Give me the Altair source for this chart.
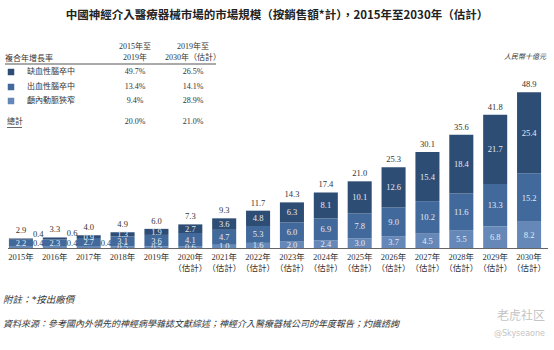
import altair as alt
import pandas as pd

years = ["2015年", "2016年", "2017年", "2018年", "2019年", "2020年", "2021年", "2022年",
         "2023年", "2024年", "2025年", "2026年", "2027年", "2028年", "2029年", "2030年"]
estimated = [False] * 5 + [True] * 11
series = ["缺血性腦卒中", "出血性腦卒中", "顱內動脈狹窄"]
ischemic = [0.4, 0.6, 0.9, 1.3, 1.9, 2.7, 3.6, 4.8, 6.3, 8.1, 10.1, 12.6, 15.4, 18.4, 21.7, 25.4]
hemorrhagic = [2.2, 2.3, 2.7, 3.1, 3.6, 4.1, 4.7, 5.3, 6.0, 6.9, 7.8, 9.0, 10.2, 11.6, 13.3, 15.2]
stenosis = [0.4, 0.4, 0.4, 0.5, 0.5, 0.6, 1.0, 1.6, 2.0, 2.4, 3.0, 3.7, 4.5, 5.5, 6.8, 8.2]
totals = [2.9, 3.3, 4.0, 4.9, 6.0, 7.3, 9.3, 11.7, 14.3, 17.4, 21.0, 25.3, 30.1, 35.6, 41.8, 48.9]
colors = ["#2e4d74", "#42699b", "#6588b8"]

cagr_1519 = ["49.7%", "13.4%", "9.4%"]
cagr_1930 = ["26.5%", "14.1%", "28.9%"]
cagr_total = ["20.0%", "21.0%"]

title = "中國神經介入醫療器械市場的市場規模（按銷售額*計），2015年至2030年（估計）"
unit = "人民幣十億元"
note = "附註：*按出廠價"
source = "資料來源：參考國內外領先的神經病學雜誌文獻綜述；神經介入醫療器械公司的年度報告；灼識諮詢"

SERIF = "Liberation Serif, Noto Sans CJK TC"
SANS = "Noto Sans CJK TC"

# ---- build tables ----
rows = []
for i, y in enumerate(years):
    vals = {"顱內動脈狹窄": stenosis[i], "出血性腦卒中": hemorrhagic[i], "缺血性腦卒中": ischemic[i]}
    base = 0.0
    for s in ["顱內動脈狹窄", "出血性腦卒中", "缺血性腦卒中"]:
        v = vals[s]
        rows.append({"year": y, "idx": i, "series": s, "value": v, "y0": base, "y1": base + v,
                     "mid": base + v / 2, "top": base + v})
        base += v
seg = pd.DataFrame(rows)
seg["label"] = seg["value"].map(lambda v: f"{v:.1f}")
seg["outside"] = (seg["idx"] < 3) & (seg["value"] < 0.8)
seg["ypos"] = seg.apply(lambda r: r["top"] if r["series"] == "缺血性腦卒中" else 0.0, axis=1)

tot = pd.DataFrame({"year": years, "total": totals,
                    "height": [a + b + c for a, b, c in zip(ischemic, hemorrhagic, stenosis)]})
tot["label"] = tot["total"].map(lambda v: f"{v:.1f}")

xl = pd.DataFrame({"year": years,
                   "label": [y + ("\n（估計）" if e else "") for y, e in zip(years, estimated)]})

xscale = alt.Scale(domain=years, range=[4, 546], paddingInner=0.29, paddingOuter=0.145)
yscale = alt.Scale(domain=[0, 48.9], range=[248, 92], nice=False, zero=False)
X = alt.X("year:N", sort=years, scale=xscale, axis=None)

bars = alt.Chart(seg).mark_bar().encode(
    x=X,
    y=alt.Y("y1:Q", scale=yscale, axis=None),
    y2="y0:Q",
    color=alt.Color("series:N", scale=alt.Scale(domain=series, range=colors), legend=None),
)

inside = alt.Chart(seg).transform_filter("!datum.outside").mark_text(
    font=SERIF, fontSize=8.5, color="#e4eaf3", baseline="middle"
).encode(x=X, y=alt.Y("mid:Q", scale=yscale, axis=None), text="label:N")

outside_top = alt.Chart(seg).transform_filter(
    "datum.outside && datum.series == '缺血性腦卒中'").mark_text(
    font=SERIF, fontSize=8.5, color="#333333", align="left", baseline="middle", dx=12, dy=-4
).encode(x=X, y=alt.Y("ypos:Q", scale=yscale, axis=None), text="label:N")

outside_bot = alt.Chart(seg).transform_filter(
    "datum.outside && datum.series == '顱內動脈狹窄'").mark_text(
    font=SERIF, fontSize=8.5, color="#333333", align="left", baseline="middle", dx=12, dy=-5
).encode(x=X, y=alt.Y("ypos:Q", scale=yscale, axis=None), text="label:N")

total_lbl = alt.Chart(tot).mark_text(
    font=SERIF, fontSize=8.5, color="#333333", baseline="bottom", dy=-3
).encode(x=X, y=alt.Y("height:Q", scale=yscale, axis=None), text="label:N")

xlabels = alt.Chart(xl).mark_text(
    font=SERIF, fontSize=8.5, color="#333333", baseline="top", lineBreak="\n", lineHeight=11
).encode(x=X, y=alt.value(253), text="label:N")

one = pd.DataFrame({"a": [0]})


def txt(s, x, y, **kw):
    opts = dict(font=SERIF, fontSize=8, color="#333333", baseline="middle")
    opts.update(kw)
    return alt.Chart(one).mark_text(**opts).encode(x=alt.value(x), y=alt.value(y), text=alt.value(s))


def rule(x1, x2, y, color="#555555", w=1.0):
    return alt.Chart(one).mark_rule(color=color, strokeWidth=w).encode(
        x=alt.value(x1), x2=alt.value(x2), y=alt.value(y))


layers = [bars, inside, outside_top, outside_bot, total_lbl, rule(8, 548, 248.5, "#666666", 1.2), xlabels]

# title & unit
layers.append(txt(title, 277, 16, font=SANS, fontSize=11.5, fontWeight="bold", color="#222222", align="center"))
layers.append(txt(unit, 546, 57, fontSize=7, fontStyle="italic", align="right"))

# CAGR table
layers.append(txt("複合年增長率", 5, 59, align="left"))
layers.append(txt("2015年至", 135, 47, align="center"))
layers.append(txt("2019年", 135, 58, align="center"))
layers.append(txt("2019年至", 193, 47, align="center"))
layers.append(txt("2030年（估計）", 193, 58, align="center"))
layers.append(rule(5, 216, 64, "#555555", 1))
row_y = [72, 87, 101]
for s, c, a, b, ry in zip(series, colors, cagr_1519, cagr_1930, row_y):
    layers.append(alt.Chart(one).mark_square(size=42, color=c, opacity=1).encode(
        x=alt.value(11), y=alt.value(ry)))
    layers.append(txt(s, 27, ry, align="left"))
    layers.append(txt(a, 135, ry, align="center"))
    layers.append(txt(b, 193, ry, align="center"))
layers.append(txt("總計", 7, 122, align="left"))
layers.append(rule(7, 22, 127.5, "#444444", 0.8))
layers.append(txt(cagr_total[0], 135, 122, align="center"))
layers.append(txt(cagr_total[1], 193, 122, align="center"))

# footnotes
layers.append(txt(note, 3, 300, fontSize=9.5, fontStyle="italic", align="left"))
layers.append(txt(source, 3, 324, fontSize=9, fontStyle="italic", align="left"))
layers.append(txt("老虎社区", 545, 316, font=SANS, fontSize=12, color="#c4c4c4", align="right"))
layers.append(txt("@Skyseaone", 545, 334, font="DejaVu Sans", fontSize=8, color="#c4c4c4", align="right"))

chart = alt.layer(*layers).properties(
    width=554, height=350, padding=0, autosize=alt.AutoSizeParams(type="none"),
    background="white"
).configure_view(stroke=None)

chart.save("out.html", embed_options={"renderer": "svg", "actions": False})
